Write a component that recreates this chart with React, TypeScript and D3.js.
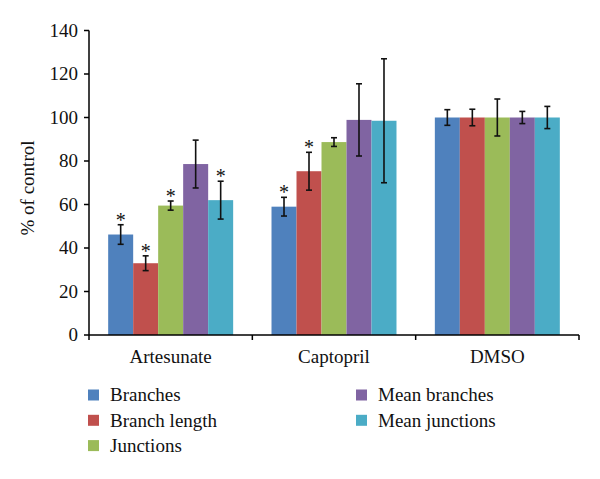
import React from "react";
import * as d3 from "d3";

const categories = ["Artesunate", "Captopril", "DMSO"];
const seriesNames = ["Branches", "Branch length", "Junctions", "Mean branches", "Mean junctions"];
const seriesColors = ["#4F81BD", "#C0504D", "#9BBB59", "#8064A2", "#4BACC6"];
// values[series][category]
const branches = [46.2, 59.0, 100];
const branchLength = [33.0, 75.3, 100];
const junctions = [59.5, 88.7, 100];
const meanBranches = [78.6, 98.9, 100];
const meanJunctions = [62.0, 98.5, 100];
const branchesErr = [4.5, 4.3, 3.6];
const branchLengthErr = [3.4, 8.7, 3.8];
const junctionsErr = [2.1, 2.0, 8.5];
const meanBranchesErr = [11.0, 16.6, 2.8];
const meanJunctionsErr = [8.7, 28.5, 5.1];
const significant = [
  [true, true, false],
  [true, true, false],
  [true, false, false],
  [false, false, false],
  [true, false, false],
];
const yTicks = [0, 20, 40, 60, 80, 100, 120, 140];

const values = [branches, branchLength, junctions, meanBranches, meanJunctions];
const errors = [branchesErr, branchLengthErr, junctionsErr, meanBranchesErr, meanJunctionsErr];

const FONT = "'Liberation Serif', 'DejaVu Serif', serif";

export default function App() {
  const W = 600, H = 479;
  const x0 = 89, x1 = 579, yBottom = 335, yTop = 30.5;
  const x = d3.scaleBand<string>().domain(categories).range([x0, x1]).paddingInner(0).paddingOuter(0);
  const xs = d3.scaleBand<string>().domain(seriesNames).range([0, x.bandwidth()]).paddingInner(0).paddingOuter(0.767);
  const y = d3.scaleLinear().domain([0, 140]).range([yBottom, yTop]);
  const fs = 19;

  const boundaries = [x0, ...categories.map((c) => (x(c) as number) + x.bandwidth())];

  return (
    <svg width={W} height={H} style={{ position: "absolute", left: 0, top: 0, background: "#fff" }} fontFamily={FONT}>
      <rect x={0} y={0} width={W} height={H} fill="#fff" />
      {/* bars */}
      {seriesNames.map((s, si) =>
        categories.map((c, ci) => {
          const bx = (x(c) as number) + (xs(s) as number);
          const v = values[si][ci];
          return (
            <rect key={s + c} x={bx} y={y(v)} width={xs.bandwidth()} height={yBottom - y(v)} fill={seriesColors[si]} />
          );
        })
      )}
      {/* error bars */}
      {seriesNames.map((s, si) =>
        categories.map((c, ci) => {
          const cx = (x(c) as number) + (xs(s) as number) + xs.bandwidth() / 2;
          const v = values[si][ci];
          const e = errors[si][ci];
          const t = y(v + e), b = y(v - e);
          return (
            <g key={"e" + s + c} stroke="#111" strokeWidth={1.6}>
              <line x1={cx} x2={cx} y1={t} y2={b} />
              <line x1={cx - 3} x2={cx + 3} y1={t} y2={t} />
              <line x1={cx - 3} x2={cx + 3} y1={b} y2={b} />
              {significant[si][ci] && (
                <text x={cx} y={t + 2} textAnchor="middle" fontSize={20} stroke="none" fill="#111">*</text>
              )}
            </g>
          );
        })
      )}
      {/* y axis */}
      <line x1={x0} x2={x0} y1={yTop} y2={yBottom} stroke="#000" strokeWidth={1.5} />
      {yTicks.map((t) => (
        <g key={t}>
          <line x1={x0 - 5} x2={x0} y1={y(t)} y2={y(t)} stroke="#000" strokeWidth={1.5} />
          <text x={x0 - 11} y={y(t)} dy="0.34em" textAnchor="end" fontSize={fs} fill="#111">{t}</text>
        </g>
      ))}
      <text transform={`translate(34,${188}) rotate(-90)`} textAnchor="middle" fontSize={fs} fill="#111">% of control</text>
      {/* x axis */}
      <line x1={x0} x2={x1} y1={yBottom} y2={yBottom} stroke="#000" strokeWidth={1.5} />
      {boundaries.map((b, i) => (
        <line key={i} x1={b} x2={b} y1={yBottom} y2={yBottom + 5} stroke="#000" strokeWidth={1.5} />
      ))}
      {categories.map((c) => (
        <text key={c} x={(x(c) as number) + x.bandwidth() / 2} y={363} textAnchor="middle" fontSize={fs} fill="#111">{c}</text>
      ))}
      {/* legend */}
      {seriesNames.map((s, i) => {
        const col = i < 3 ? 0 : 1;
        const row = i < 3 ? i : i - 3;
        const lx = col === 0 ? 88 : 356;
        const ly = 395 + row * 25.3;
        return (
          <g key={"l" + s}>
            <rect x={lx} y={ly - 5.5} width={11} height={11} fill={seriesColors[i]} />
            <text x={lx + 22} y={ly} dy="0.34em" fontSize={fs} fill="#111">{s}</text>
          </g>
        );
      })}
    </svg>
  );
}
